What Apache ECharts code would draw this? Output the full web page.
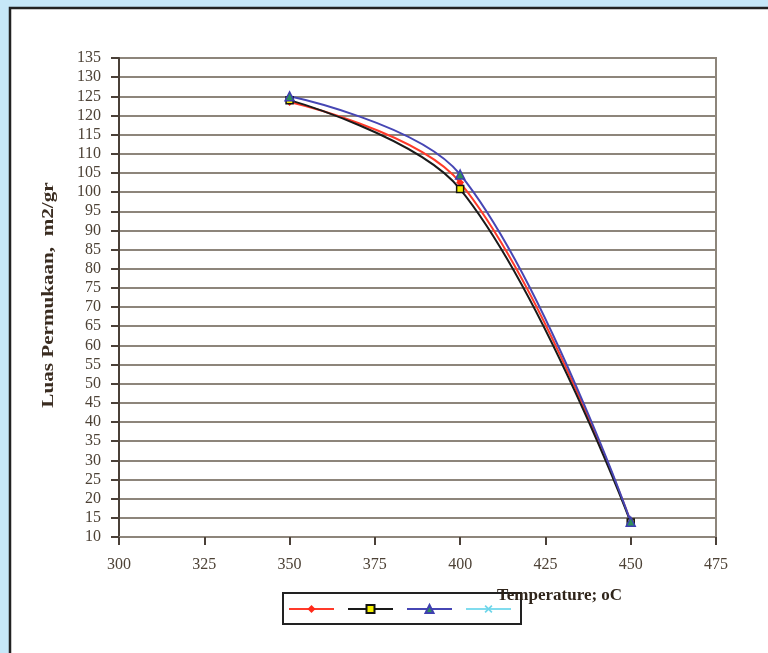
<!DOCTYPE html>
<html>
<head>
<meta charset="utf-8">
<script src="https://cdn.jsdelivr.net/npm/echarts@6/dist/echarts.min.js"></script>
<style>
html,body{margin:0;padding:0;background:#c6e7f8;}
#chart{width:768px;height:653px;}
</style>
</head>
<body>
<div id="chart"></div>
<script>
// Data
const temperatures = [350, 400, 450];
const seriesRed = [123.5, 102.5, 14];
const seriesBlack = [124, 100.8, 13.8];
const seriesBlue = [125, 104.6, 14];
const seriesCyan = [];
const yTitle = 'Luas Permukaan,  m2/gr';
const xTitle = 'Temperature; oC';

function pairs(vals) { return vals.map((v, i) => [temperatures[i], v]); }

const serif = '"Liberation Serif", "DejaVu Serif", serif';
const gridColor = '#8d857b';
const labelColor = '#4d4236';
const smoothness = 0.36;

const chart = echarts.init(document.getElementById('chart'));
const xMark = 'path://M0,1.5L1.5,0L5,3.5L8.5,0L10,1.5L6.5,5L10,8.5L8.5,10L5,6.5L1.5,10L0,8.5L3.5,5Z';

chart.setOption({
  animation: false,
  backgroundColor: 'transparent',
  graphic: [
    { type: 'rect', z: -10, silent: true, shape: { x: 10, y: 8, width: 800, height: 700 },
      style: { fill: '#ffffff', stroke: '#222222', lineWidth: 2.5 } },
    { type: 'text', x: 49, y: 295, rotation: Math.PI / 2, scaleX: 1.32, z: 10,
      style: { text: yTitle, font: 'bold 16px ' + serif, fill: '#3a2c20', align: 'center', verticalAlign: 'middle' } },
    { type: 'text', x: 497, y: 596, z: 100,
      style: { text: xTitle, font: 'bold 17px ' + serif, fill: '#2f241a', align: 'left', verticalAlign: 'middle' } }
  ],
  grid: { left: 119, right: 52, top: 58, bottom: 116, show: true, borderColor: gridColor, borderWidth: 2, backgroundColor: 'transparent' },
  xAxis: {
    type: 'value', min: 300, max: 475, interval: 25,
    axisLine: { show: true, onZero: false, lineStyle: { color: gridColor, width: 2 } },
    axisTick: { show: true, length: 8, lineStyle: { color: '#4a4038', width: 2 } },
    axisLabel: { margin: 20, fontSize: 16, fontFamily: serif, color: labelColor },
    splitLine: { show: false }
  },
  yAxis: {
    type: 'value', min: 10, max: 135, interval: 5,
    axisLine: { show: true, onZero: false, lineStyle: { color: '#4a4038', width: 2 } },
    axisTick: { show: true, length: 8, lineStyle: { color: '#4a4038', width: 2 } },
    axisLabel: { margin: 18, fontSize: 16, fontFamily: serif, color: labelColor },
    splitLine: { show: true, lineStyle: { color: gridColor, width: 2 } }
  },
  legend: {
    left: 283, top: 593,
    borderColor: '#222222', borderWidth: 2,
    padding: [11, 9, 10, 5],
    itemWidth: 45, itemHeight: 10, itemGap: 12,
    formatter: function () { return ''; },
    data: ['S1', 'S2', 'S3', 'S4']
  },
  series: [
    { name: 'S1', type: 'line', data: pairs(seriesRed), smooth: smoothness,
      symbol: 'diamond', symbolSize: 8,
      itemStyle: { color: '#ff2a1a' }, lineStyle: { color: '#ff3a2a', width: 2 } },
    { name: 'S2', type: 'line', data: pairs(seriesBlack), smooth: smoothness,
      symbol: 'rect', symbolSize: 7,
      itemStyle: { color: '#f5f000', borderColor: '#111111', borderWidth: 1.5 }, lineStyle: { color: '#1a1a1a', width: 2 } },
    { name: 'S3', type: 'line', data: pairs(seriesBlue), smooth: smoothness,
      symbol: 'triangle', symbolSize: 9,
      itemStyle: { color: '#2f8f5a', borderColor: '#3f3fb0', borderWidth: 1.5 }, lineStyle: { color: '#4646b4', width: 2 } },
    { name: 'S4', type: 'line', data: pairs(seriesCyan), smooth: smoothness,
      symbol: xMark, symbolSize: 8,
      itemStyle: { color: '#6fd6ea' }, lineStyle: { color: '#80dcee', width: 2 } }
  ]
});
</script>
</body>
</html>
